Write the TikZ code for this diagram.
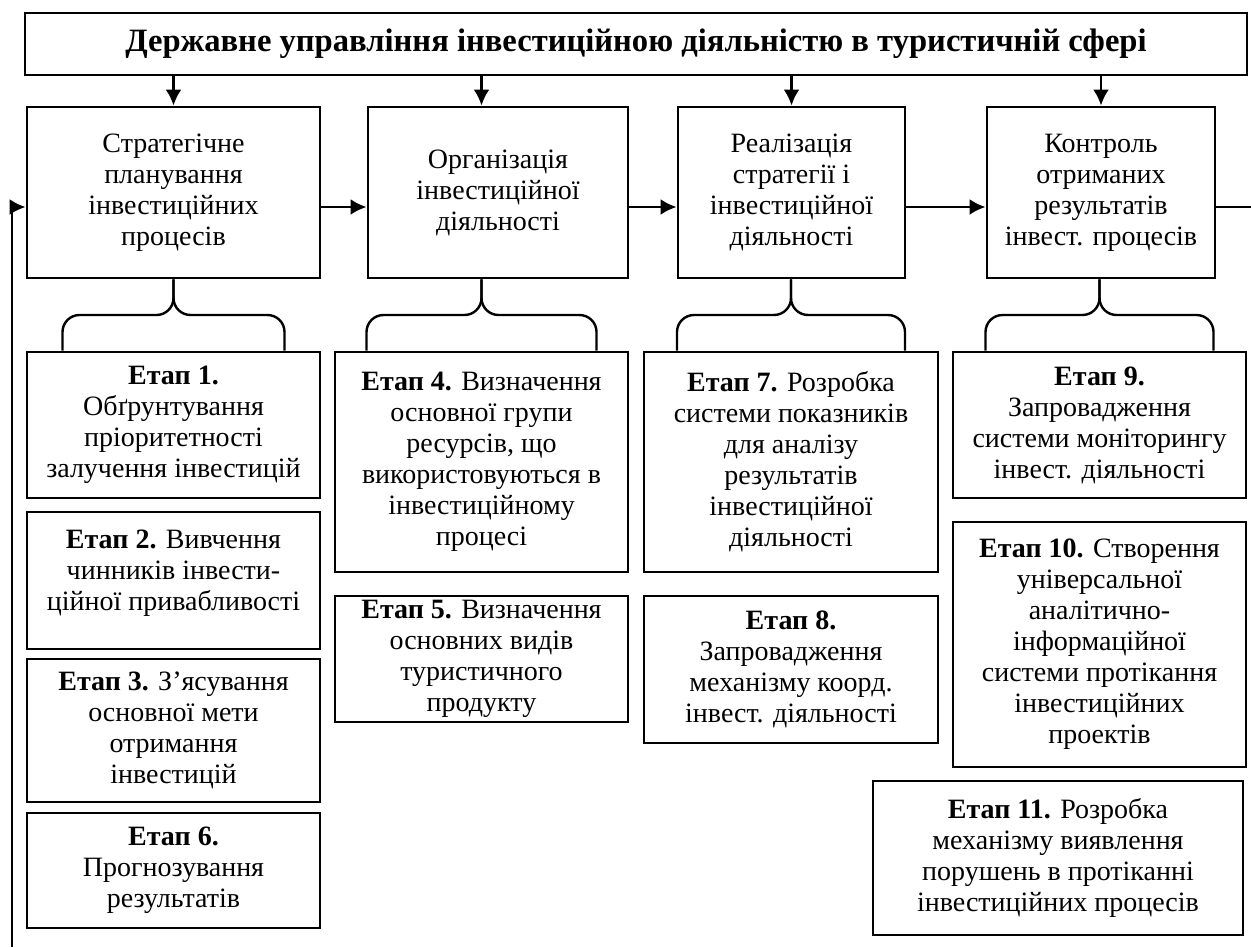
\documentclass[tikz,border=0pt]{standalone}
\usepackage{fontspec}
\setmainfont{Liberation Serif}
\usetikzlibrary{arrows.meta,calc,positioning}

\tikzset{
	box/.style={draw, line width=1.4pt, align=center, inner sep=2pt, font=\fontsize{14}{15.5}\selectfont},
	line/.style={line width=1.4pt},
	arr/.style={line, -{Latex[length=8pt,width=8pt]}},
	brc/.style={line width=1.2pt, rounded corners=8.5pt}
}

% Klammer von einer Stufe zu ihren Etappen
\newcommand{\stagebrace}[3]{%
	\coordinate (bt) at (#1.south -| #2.north);
	\coordinate (bm) at ($(bt)!.5!(#2.north)$);
	\draw[brc] ($(#2.north)+(-#3,0)$) |- (bm) -- (bt);
	\draw[brc] ($(#2.north)+(#3,0)$) |- (bm) -- (bt);
}

\begin{document}
\begin{tikzpicture}[x=0.5pt,y=-0.5pt]
	\useasboundingbox (0,0) rectangle (1251,947);

	% Kopf
	\node[box, minimum width=611pt, minimum height=31pt, font=\fontsize{16.3}{18}\selectfont\bfseries] (top) at (636,44) {Державне управління інвестиційною діяльністю в туристичній сфері};

	% Stufen
	\node[box, minimum width=146.5pt, minimum height=85.5pt] (plan) at (173.5,192.5) {Стратегічне\\планування\\інвестиційних\\процесів};
	\node[box, minimum width=130pt, minimum height=85.5pt] (org) at (498,192.5) {Організація\\інвестиційної\\діяльності};
	\node[box, minimum width=113.5pt, minimum height=85.5pt] (real) at (791.5,192.5) {Реалізація\\стратегії і\\інвестиційної\\діяльності};
	\node[box, minimum width=114pt, minimum height=85.5pt] (ctrl) at (1101,192.5) {Контроль\\отриманих\\результатів\\інвест. процесів};

	% Etappen
	\node[box, minimum width=146.5pt, minimum height=73pt] (e1) at (173.5,425) {\textbf{Етап 1.}\\Обґрунтування\\пріоритетності\\залучення інвестицій};
	\node[box, minimum width=146.5pt, minimum height=68.5pt] (e2) at (173.5,580.5) {\textbf{Етап 2.} Вивчення\\чинників інвести-\\ційної привабливості\\[-10pt]\strut};
	\node[box, minimum width=146.5pt, minimum height=71.5pt] (e3) at (173.5,730.5) {\textbf{Етап 3.} З’ясування\\основної мети\\отримання\\інвестицій};
	\node[box, minimum width=146.5pt, minimum height=57.5pt] (e6) at (173.5,870.5) {\textbf{Етап 6.}\\Прогнозування\\результатів};

	\node[box, minimum width=146.5pt, minimum height=110pt] (e4) at (481.5,462) {\textbf{Етап 4.} Визначення\\основної групи\\ресурсів, що\\використовуються в\\інвестиційному\\процесі};
	\node[box, minimum width=146.5pt, minimum height=63pt] (e5) at (481.5,659) {\textbf{Етап 5.} Визначення\\основних видів\\туристичного\\продукту};

	\node[box, minimum width=147pt, minimum height=110pt] (e7) at (791,462) {\textbf{Етап 7.} Розробка\\системи показників\\для аналізу\\результатів\\інвестиційної\\діяльності};
	\node[box, minimum width=147pt, minimum height=73.5pt] (e8) at (791,669.5) {\textbf{Етап 8.}\\Запровадження\\механізму коорд.\\інвест. діяльності};

	\node[box, minimum width=146.5pt, minimum height=73pt] (e9) at (1099.5,425) {\textbf{Етап 9.}\\Запровадження\\системи моніторингу\\інвест. діяльності};
	\node[box, minimum width=146.5pt, minimum height=122.5pt] (e10) at (1099.5,644.5) {\textbf{Етап 10.} Створення\\універсальної\\аналітично-\\інформаційної\\системи протікання\\інвестиційних\\проектів};
	\node[box, minimum width=185pt, minimum height=77pt] (e11) at (1058,858) {\textbf{Етап 11.} Розробка\\механізму виявлення\\порушень в протіканні\\інвестиційних процесів};

	% Pfeile vom Kopf
	\draw[arr] (top.south -| plan.north) -- (plan.north);
	\draw[arr] (top.south -| e4.north) -- (org.north -| e4.north);
	\draw[arr] (top.south -| real.north) -- (real.north);
	\draw[arr] (top.south -| ctrl.north) -- (ctrl.north);

	% Kette
	\draw[arr] ([yshift=-7.25pt]plan.east) -- ([yshift=-7.25pt]org.west);
	\draw[arr] ([yshift=-7.25pt]org.east) -- ([yshift=-7.25pt]real.west);
	\draw[arr] ([yshift=-7.25pt]real.east) -- ([yshift=-7.25pt]ctrl.west);

	% Rueckfuehrung
	\coordinate (rgt) at (1251,207);
	\coordinate (lft) at (12,947);
	\draw[line] ([yshift=-7.25pt]ctrl.east) -- (rgt);
	\draw[arr] (lft) |- ([yshift=-7.25pt]plan.west);

	% Klammern
	\stagebrace{plan}{e1}{111}
	\stagebrace{org}{e4}{115}
	\stagebrace{real}{e7}{114}
	\stagebrace{ctrl}{e9}{114}
\end{tikzpicture}
\end{document}
